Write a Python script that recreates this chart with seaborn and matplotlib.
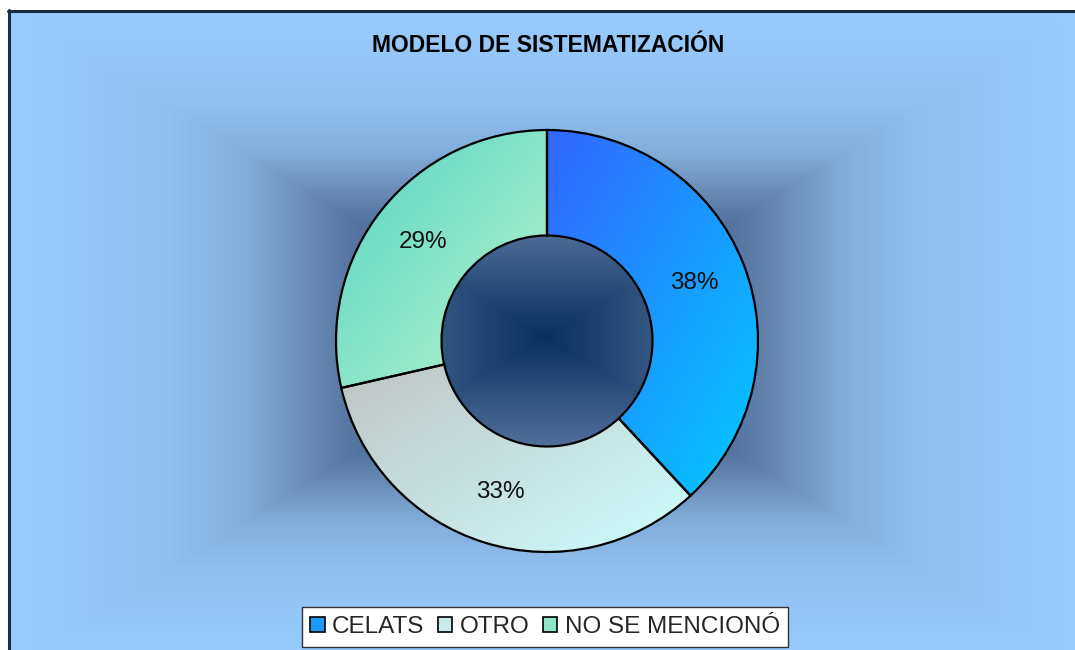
import numpy as np
import matplotlib
matplotlib.use("Agg")
import matplotlib.pyplot as plt
from matplotlib.colors import LinearSegmentedColormap, to_rgb
from matplotlib.patches import Rectangle
from matplotlib.lines import Line2D
import seaborn as sns

# ---- data ----
categories = ["CELATS", "OTRO", "NO SE MENCIONÓ"]
counts = [8, 7, 6]
title = "MODELO DE SISTEMATIZACIÓN"

# gradient colours per slice (top-left -> bottom-right)
grad_start = ["#3366FF", "#C0C0C0", "#55D4C4"]
grad_end = ["#00CCFF", "#CCFFFF", "#BAF4CC"]
legend_colors = ["#1A99FF", "#C8ECEC", "#8EE6C8"]

sns.set_theme(style="white")
plt.rcParams["font.family"] = ["Liberation Sans", "DejaVu Sans"]

W, H = 1075, 650
fig = plt.figure(figsize=(W / 100, H / 100), dpi=100)
fig.patch.set_facecolor("white")

# ---- background (rectangular "from centre" gradient) ----
bg = fig.add_axes([0, 0, 1, 1])
bg.set_xlim(0, W)
bg.set_ylim(H, 0)
bg.axis("off")
xs = np.arange(8, W) + 0.5
ys = np.arange(10, H) + 0.5
X, Y = np.meshgrid(xs, ys)
T = np.maximum(np.abs(X - 545) / 537.0, np.abs(Y - 337) / 330.0)
bg_cmap = LinearSegmentedColormap.from_list(
    "bg",
    [(0.0, "#08305F"), (0.3, "#4A6A95"), (0.4, "#5F80AA"),
     (0.55, "#80ACD8"), (0.7, "#90C0F0"), (1.0, "#99CCFF")])
bg.imshow(bg_cmap(np.clip(T, 0, 1)), extent=(8, W, H, 10),
          interpolation="bilinear", aspect="auto")
bg.add_line(Line2D([8.5, 8.5], [10, H], color="#1C2B45", lw=2.2))
bg.add_line(Line2D([8, W], [10.5, 10.5], color="#1C2B45", lw=2.2))

# ---- donut ----
cx, cy, R = 547, 341, 211
lim = 1.1
side = 2 * R * lim
ax = fig.add_axes([(cx - side / 2) / W, (H - cy - side / 2) / H, side / W, side / H])
ax.set_facecolor("none")
wedges, texts, autotexts = ax.pie(
    counts, startangle=90, counterclock=False, autopct="%1.0f%%",
    pctdistance=0.75, radius=1.0,
    wedgeprops=dict(width=0.5, edgecolor="black", linewidth=1.6),
    textprops=dict(fontsize=17.5, color="#111111"))
ax.set_xlim(-lim, lim)
ax.set_ylim(-lim, lim)
ax.axis("off")

for w, c0, c1 in zip(wedges, grad_start, grad_end):
    path = w.get_path()
    verts = path.vertices
    x0, y0 = verts[:, 0].min(), verts[:, 1].min()
    x1, y1 = verts[:, 0].max(), verts[:, 1].max()
    n = 200
    u, v = np.meshgrid(np.linspace(0, 1, n), np.linspace(0, 1, n))
    t = ((u + v) / 2)[..., None]
    img = (1 - t) * np.array(to_rgb(c0)) + t * np.array(to_rgb(c1))
    im = ax.imshow(img, extent=(x0, x1, y0, y1), origin="upper",
                   interpolation="bilinear", zorder=0.5, aspect="auto")
    im.set_clip_path(w)
    w.set_facecolor("none")
    w.set_zorder(1)
for t_ in autotexts:
    t_.set_zorder(3)
ax.set_xlim(-lim, lim)
ax.set_ylim(-lim, lim)

# ---- title ----
fig.text(548 / W, 1 - 51.5 / H, title, ha="center", va="baseline",
         fontsize=16.5, fontweight="bold", color="black")

# ---- legend ----
handles = [Rectangle((0, 0), 1, 1, facecolor=c, edgecolor="black", linewidth=1.2)
           for c in legend_colors]
leg = fig.legend(handles, categories, loc="center", ncol=3,
                 bbox_to_anchor=(545 / W, 1 - 627 / H),
                 fontsize=17.5, frameon=True, fancybox=False,
                 handlelength=0.6, handleheight=0.6, handletextpad=0.3,
                 columnspacing=0.55, borderpad=0.35, borderaxespad=0)
frame = leg.get_frame()
frame.set_facecolor("white")
frame.set_edgecolor("#333333")
frame.set_linewidth(1.0)
frame.set_alpha(1)

fig.savefig("out.png", dpi=100)
